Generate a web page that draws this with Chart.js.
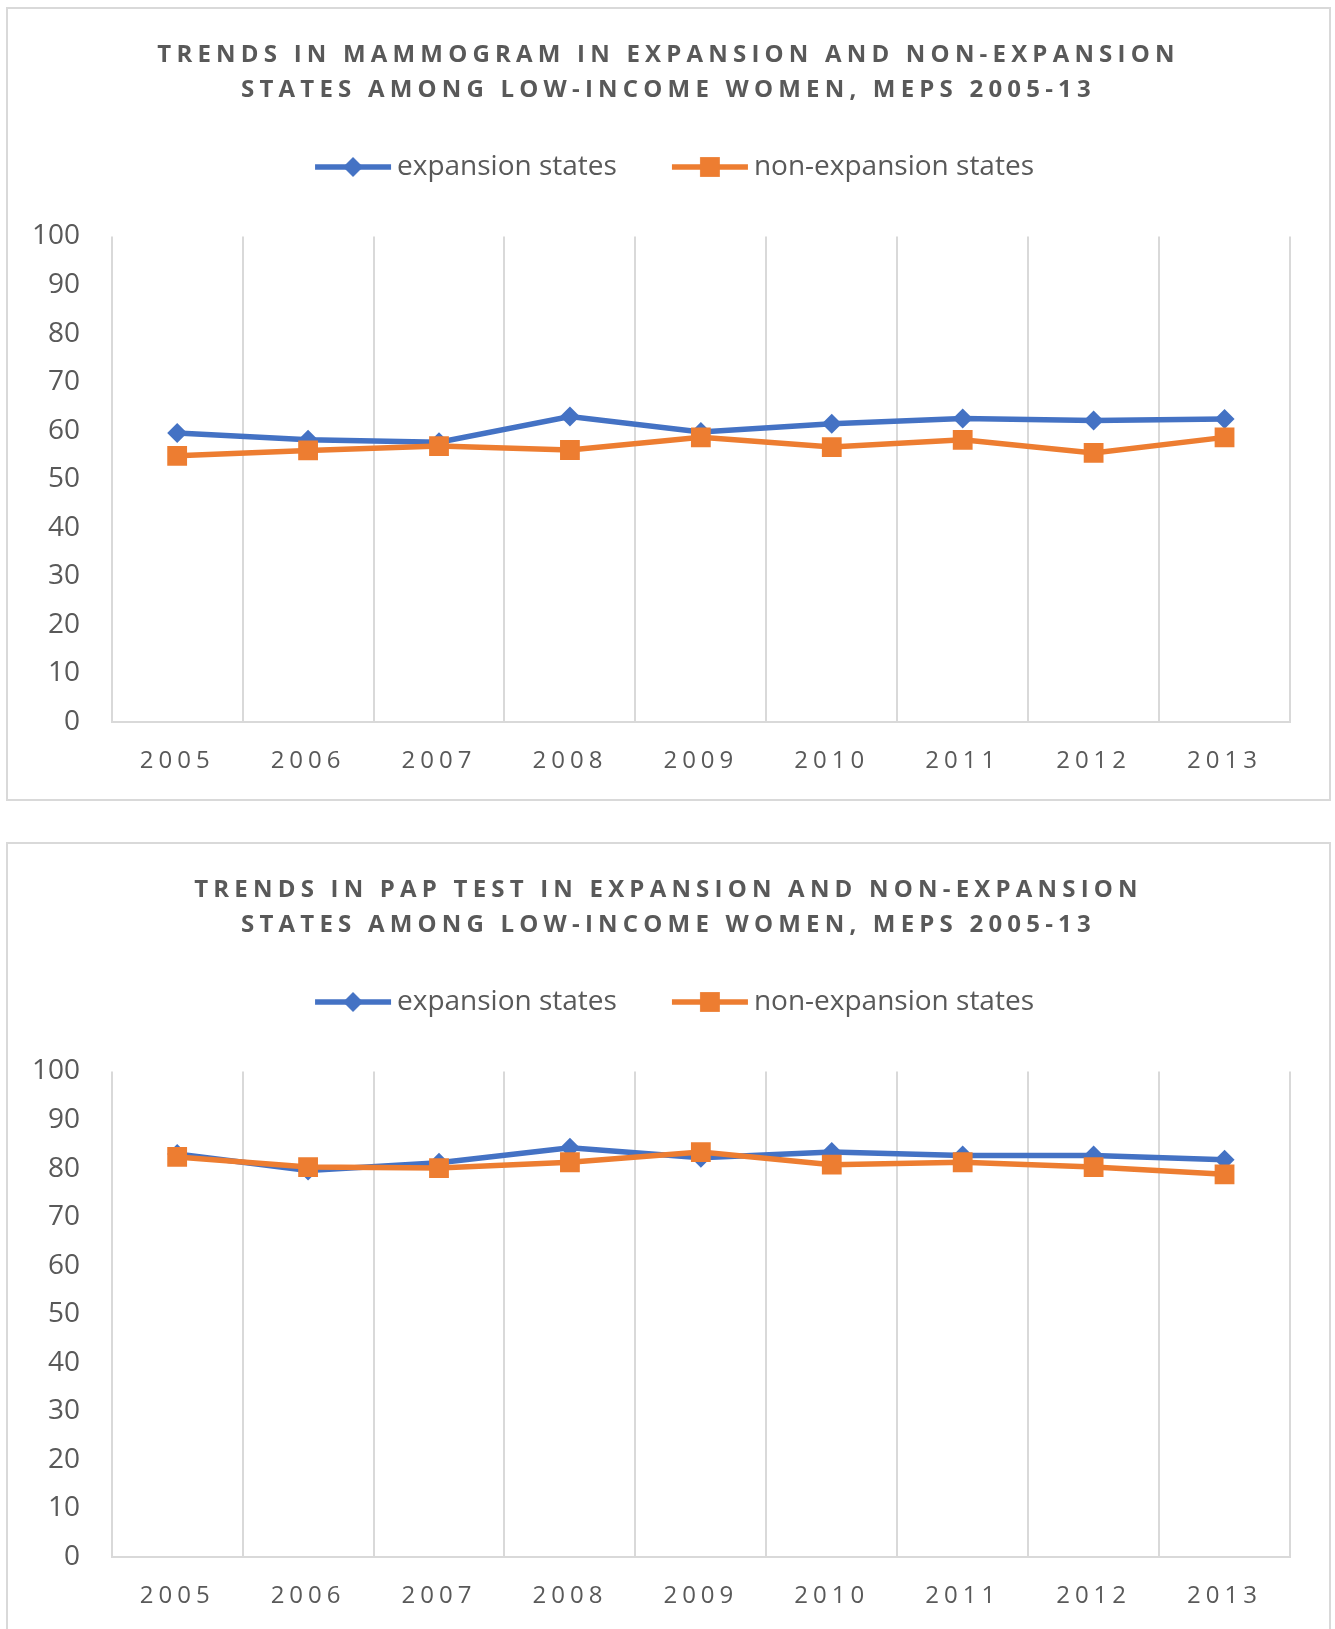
<!DOCTYPE html>
<html><head><meta charset="utf-8">
<script src="https://cdn.jsdelivr.net/npm/chart.js@4.4.1/dist/chart.umd.min.js"></script>
<style>
html,body{margin:0;padding:0;background:#fff;overflow:hidden;width:1335px;height:1629px;}
.box{position:absolute;left:6px;width:1325px;height:794px;border:2px solid #d9d9d9;box-sizing:border-box;background:#fff;}
.box canvas{position:absolute;left:0;top:0;}
</style></head><body>
<div class="box" style="top:7px"><canvas id="c1" width="1321" height="790"></canvas></div>
<div class="box" style="top:842px"><canvas id="c2" width="1321" height="790"></canvas></div>
<script>
// ---- data ----
const years = ['2005','2006','2007','2008','2009','2010','2011','2012','2013'];
const yTickValues = [0,10,20,30,40,50,60,70,80,90,100];
const seriesNames = ['expansion states','non-expansion states'];
const mammoTitle = ['TRENDS IN MAMMOGRAM IN EXPANSION AND NON-EXPANSION','STATES AMONG LOW-INCOME WOMEN, MEPS 2005-13'];
const mammoExpansion = [59.5, 58.1, 57.6, 62.9, 59.7, 61.4, 62.5, 62.1, 62.4];
const mammoNonExpansion = [54.8, 55.9, 56.8, 56.0, 58.6, 56.6, 58.1, 55.4, 58.6];
const papTitle = ['TRENDS IN PAP TEST IN EXPANSION AND NON-EXPANSION','STATES AMONG LOW-INCOME WOMEN, MEPS 2005-13'];
const papExpansion = [83.0, 79.6, 81.2, 84.3, 82.2, 83.4, 82.7, 82.7, 81.8];
const papNonExpansion = [82.4, 80.3, 80.1, 81.3, 83.4, 80.8, 81.3, 80.3, 78.8];

// ---- styles ----
const BLUE = '#4472C4', ORANGE = '#ED7D31', GRID = '#d9d9d9', TEXT = '#595959';
const FONT = "'Open Sans', 'DejaVu Sans', sans-serif";
const LEG_FS = 28, LEG_PAD = 43, LEG_W = 80, LEG_LINE = 76, LEG_GAP = 6, LEG_EXTRA = 45.5;
const DIAMOND_R = 10, SQUARE_R = 14, LINE_W = 5.5;

function legendImage(color, style, r) {
  const endRel = LEG_W / 2 + LEG_FS / 2 - LEG_GAP;
  const startRel = endRel - LEG_LINE;
  const half = Math.ceil(Math.max(Math.abs(startRel), Math.abs(endRel))) + 2;
  const c = document.createElement('canvas');
  c.width = half * 2; c.height = 40;
  const ctx = c.getContext('2d');
  ctx.strokeStyle = color; ctx.lineWidth = LINE_W;
  ctx.beginPath(); ctx.moveTo(half + startRel, 20); ctx.lineTo(half + endRel, 20); ctx.stroke();
  ctx.fillStyle = color;
  Chart.helpers.drawPoint(ctx, {pointStyle: style, radius: r, rotation: 0, borderWidth: 0}, half + (startRel + endRel) / 2, 20);
  return c;
}

const layoutPlugin = {
  id: 'layoutTweaks',
  beforeLayout(chart) {
    const lg = chart.legend;
    if (lg && !lg._fitWrapped) {
      const of = lg.fit;
      lg.fit = function () { of.call(this); this.height += LEG_EXTRA; };
      lg._fitWrapped = true;
    }
  },
  afterLayout(chart) {
    const wrap = (obj, name, sp) => {
      if (!obj || obj[name]._wrapped) return;
      const orig = obj[name];
      const f = function (...a) {
        const c = chart.ctx; const prev = c.letterSpacing;
        c.letterSpacing = sp;
        try { return orig.apply(this, a); } finally { c.letterSpacing = prev; }
      };
      f._wrapped = true; obj[name] = f;
    };
    wrap(chart.titleBlock, 'draw', '5.2px');
    wrap(chart.scales.x, 'drawLabels', '5px');
  }
};

function makeChart(id, titleLines, expVals, nonVals) {
  const imgs = [legendImage(BLUE, 'rectRot', DIAMOND_R), legendImage(ORANGE, 'rect', SQUARE_R)];
  return new Chart(document.getElementById(id), {
    type: 'line',
    data: {
      labels: years,
      datasets: [
        {label: seriesNames[0], data: expVals, borderColor: BLUE, backgroundColor: BLUE, borderWidth: LINE_W,
         pointStyle: 'rectRot', pointRadius: DIAMOND_R, pointBorderWidth: 0, pointBackgroundColor: BLUE, tension: 0, order: 1},
        {label: seriesNames[1], data: nonVals, borderColor: ORANGE, backgroundColor: ORANGE, borderWidth: LINE_W,
         pointStyle: 'rect', pointRadius: SQUARE_R, pointBorderWidth: 0, pointBackgroundColor: ORANGE, tension: 0, order: 0}
      ]
    },
    options: {
      responsive: false, animation: false, devicePixelRatio: 1,
      layout: {padding: 0},
      plugins: {
        tooltip: {enabled: false},
        title: {display: true, text: titleLines, color: TEXT,
                font: {family: FONT, size: 24, weight: 'bold', lineHeight: 35 / 24},
                padding: {top: 28.5, bottom: 2.5}},
        legend: {display: true, position: 'top',
          labels: {usePointStyle: true, pointStyleWidth: LEG_W, padding: LEG_PAD, color: TEXT,
                   font: {family: FONT, size: LEG_FS},
                   generateLabels(chart) {
                     return chart.data.datasets.map((ds, i) => ({text: ds.label, fillStyle: ds.borderColor,
                       strokeStyle: ds.borderColor, lineWidth: 0, pointStyle: imgs[i], datasetIndex: i,
                       hidden: false, fontColor: TEXT}));
                   }}}
      },
      scales: {
        x: {type: 'category', offset: true,
            grid: {display: true, offset: true, color: GRID, lineWidth: 2, drawTicks: false},
            border: {display: true, color: GRID, width: 2},
            ticks: {color: TEXT, font: {family: FONT, size: 24}, padding: 25, autoSkip: false, maxRotation: 0},
            afterFit(s) { s.height = 77.3; s.paddingRight = 39; s.paddingLeft = 0; }},
        y: {min: 0, max: 100,
            grid: {display: false, drawTicks: false}, border: {display: false},
            ticks: {color: TEXT, font: {family: FONT, size: 28}, padding: 31.7},
            afterBuildTicks(s) { s.ticks = yTickValues.map(v => ({value: v})); },
            afterFit(s) { s.width = 103.7; }}
      }
    },
    plugins: [layoutPlugin]
  });
}

makeChart('c1', mammoTitle, mammoExpansion, mammoNonExpansion);
makeChart('c2', papTitle, papExpansion, papNonExpansion);
</script>
</body></html>
